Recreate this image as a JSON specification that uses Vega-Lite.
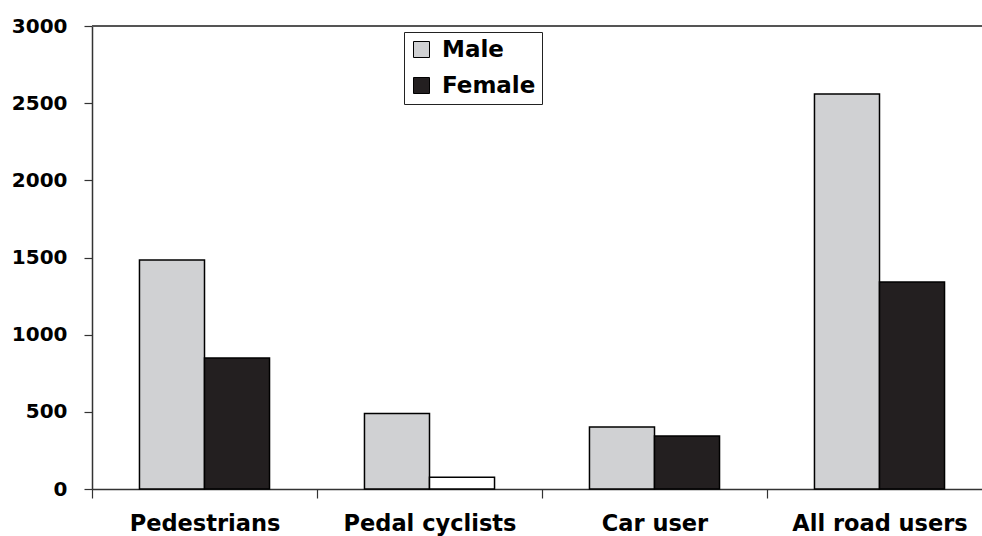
{
  "$schema": "https://vega.github.io/schema/vega-lite/v6.json",
  "width": 890,
  "height": 463,
  "autosize": {"type": "none"},
  "padding": {"left": 92, "top": 26, "right": 0, "bottom": 47},
  "background": "white",
  "config": {
    "view": {"stroke": null},
    "font": "DejaVu Sans",
    "axis": {"domainColor": "#333333", "tickColor": "#333333", "labelColor": "black", "labelFontWeight": "bold", "labelFont": "DejaVu Sans", "grid": false, "title": null}
  },
  "data": {
    "values": [
      {"category": "Pedestrians", "gender": "Male", "value": 1484},
      {"category": "Pedestrians", "gender": "Female", "value": 849},
      {"category": "Pedal cyclists", "gender": "Male", "value": 490},
      {"category": "Pedal cyclists", "gender": "Female", "value": 76},
      {"category": "Car user", "gender": "Male", "value": 402},
      {"category": "Car user", "gender": "Female", "value": 343},
      {"category": "All road users", "gender": "Male", "value": 2560},
      {"category": "All road users", "gender": "Female", "value": 1341}
    ]
  },
  "layer": [
    {
      "mark": {"type": "bar", "stroke": "black", "strokeWidth": 1.5},
      "encoding": {
        "x": {
          "field": "category", "type": "nominal", "sort": null,
          "scale": {"range": [0, 900], "paddingInner": 0, "paddingOuter": 0},
          "axis": {"labelAngle": 0, "labelFontSize": 22.5, "tickSize": 9, "tickBand": "extent", "labelPadding": 14, "domainWidth": 1.5, "tickWidth": 1.2}
        },
        "xOffset": {
          "field": "gender", "type": "nominal", "sort": ["Male", "Female"],
          "scale": {"paddingInner": 0, "paddingOuter": 0.73}
        },
        "y": {
          "field": "value", "type": "quantitative",
          "scale": {"domain": [0, 3000], "nice": false},
          "axis": {"values": [0, 500, 1000, 1500, 2000, 2500, 3000], "format": "d", "labelFontSize": 20, "tickSize": 8, "labelPadding": 17, "domainWidth": 1.5, "tickWidth": 1.2}
        },
        "color": {
          "field": "gender", "type": "nominal",
          "scale": {"domain": ["Male", "Female"], "range": ["#d0d1d3", "#231f20"]},
          "condition": {"test": "datum.category === 'Pedal cyclists' && datum.gender === 'Female'", "value": "white"},
          "legend": {
            "orient": "none", "legendX": 312, "legendY": 6, "title": null,
            "strokeColor": "#222222", "fillColor": "white", "padding": 6,
            "symbolType": "square", "symbolSize": 256, "symbolStrokeColor": "black", "symbolStrokeWidth": 1, "symbolOpacity": 1,
            "labelFontSize": 23, "labelFontWeight": "bold", "labelColor": "black", "labelFont": "DejaVu Sans",
            "rowPadding": 12, "labelOffset": 9, "offset": 0
          }
        }
      }
    },
    {
      "mark": {"type": "rule", "color": "#555555", "strokeWidth": 2},
      "encoding": {"y": {"datum": 3000, "type": "quantitative"}}
    }
  ]
}
